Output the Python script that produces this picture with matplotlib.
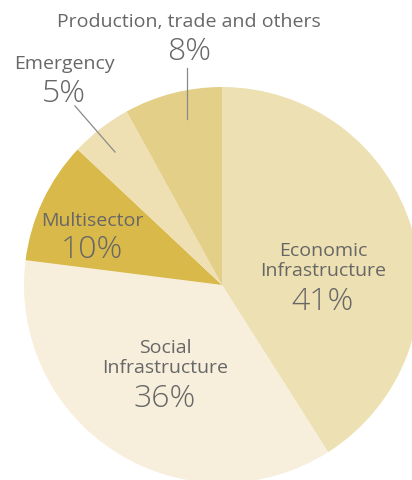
import matplotlib
matplotlib.use('Agg')
import matplotlib.pyplot as plt

# shares of the chart, clockwise from the top
sectors = ['Economic\nInfrastructure', 'Social\nInfrastructure', 'Multisector',
           'Emergency', 'Production, trade and others']
shares = [41, 36, 10, 5, 8]
colors = ['#ede0b2', '#f7efdc', '#d9b94a', '#eee0b3', '#e4cf88']

plt.rcParams['font.family'] = ['Open Sans', 'DejaVu Sans']
txt = '#676767'

fig = plt.figure(figsize=(4.12, 4.81), dpi=100)
ax = fig.add_axes([0, 0, 1, 1])

# pie in pixel coords (y measured from bottom)
ax.pie(shares, colors=colors, startangle=90, counterclock=False,
       center=(222, 481 - 286), radius=198, frame=True,
       wedgeprops=dict(linewidth=0))
ax.set_xlim(0, 412)
ax.set_ylim(0, 481)
ax.axis('off')

def label(name, pct, x, y_name, y_pct):
    ax.text(x, 481 - y_name, name, ha='center', va='center', fontsize=14,
            color=txt, linespacing=1.17)
    ax.text(x, 481 - y_pct, '{}%'.format(pct), ha='center', va='center',
            fontsize=23, color=txt, fontweight='light')

label(sectors[0], shares[0], 323, 261, 302)
label(sectors[1], shares[1], 165, 358, 399)
label(sectors[2], shares[2], 92, 221, 250)
label(sectors[3], shares[3], 64, 64, 94)
label(sectors[4], shares[4], 189, 22, 52)

# leader lines
ax.plot([187, 187], [481 - 69, 481 - 120], color='#8a8a8a', lw=0.9)
ax.plot([75, 115], [481 - 107, 481 - 153], color='#8a8a8a', lw=0.9)

fig.savefig('out.png', dpi=100)
